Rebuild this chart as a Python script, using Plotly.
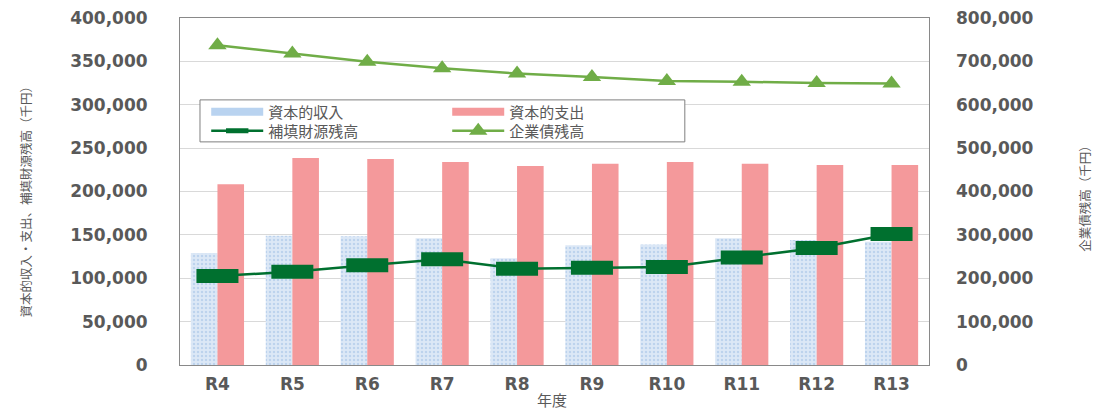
import plotly.graph_objects as go

years = ["R4", "R5", "R6", "R7", "R8", "R9", "R10", "R11", "R12", "R13"]
capital_income = [129000, 149000, 148500, 146000, 123000, 138000, 139000, 146000, 144000, 142000]
capital_expense = [208500, 238500, 237500, 234000, 229500, 232000, 234000, 232000, 230500, 230500]
reserve_balance = [102500, 107500, 115000, 122000, 111000, 112000, 113000, 124000, 135000, 151000]
bond_balance = [737000, 718000, 699000, 684000, 672000, 664000, 655000, 653000, 650000, 649000]

left_ticks = [0, 50000, 100000, 150000, 200000, 250000, 300000, 350000, 400000]
right_ticks = [0, 100000, 200000, 300000, 400000, 500000, 600000, 700000, 800000]

tick_font = dict(family="DejaVu Sans", size=17, color="#595959", weight="bold")
cjk = "Noto Sans CJK JP"
txt = "#595959"
blue_bg = "#dce8f6"
blue_dot = "#9dbde4"
pink = "#f4999b"
dark_green = "#00702f"
light_green = "#70ad47"

fig = go.Figure()
fig.add_trace(go.Bar(
    x=years, y=capital_income, name="資本的収入", showlegend=False, legendgroup="inc",
    marker=dict(color=blue_bg, line=dict(width=0),
                pattern=dict(shape=".", fgcolor=blue_dot, bgcolor=blue_bg, size=4, solidity=0.3)),
))
fig.add_trace(go.Bar(
    x=years, y=capital_expense, name="資本的支出", showlegend=False, legendgroup="exp",
    marker=dict(color=pink, line=dict(width=0)),
))
# legend swatches for the bar series (wide strips as in the reference)
fig.add_trace(go.Scatter(x=[None], y=[None], name="資本的収入", mode="lines", legendgroup="inc",
                         legend="legend", line=dict(color="#b9d3f0", width=8)))
fig.add_trace(go.Scatter(x=[None], y=[None], name="資本的支出", mode="lines", legendgroup="exp",
                         legend="legend", line=dict(color=pink, width=8)))
fig.add_trace(go.Scatter(
    x=years, y=reserve_balance, name="補填財源残高", mode="lines+markers", legend="legend2",
    line=dict(color=dark_green, width=2.5),
    marker=dict(symbol="line-ew", size=30, line=dict(width=14, color=dark_green), color=dark_green),
))
fig.add_trace(go.Scatter(
    x=years, y=bond_balance, name="企業債残高", mode="lines+markers", yaxis="y2", legend="legend2",
    line=dict(color=light_green, width=2.5),
    marker=dict(symbol="triangle-up", size=16, color=light_green),
))

legend_common = dict(
    xanchor="left", yanchor="middle", orientation="h",
    bgcolor="rgba(0,0,0,0)", borderwidth=0,
    font=dict(family=cjk, size=15, color=txt),
    entrywidth=174, entrywidthmode="pixels", itemwidth=52,
    traceorder="normal", tracegroupgap=0,
)

fig.update_layout(
    width=1101, height=412,
    margin=dict(l=180, r=172, t=18, b=47, autoexpand=False),
    paper_bgcolor="white", plot_bgcolor="white",
    barmode="group", bargap=0.29, bargroupgap=0.0,
    font=dict(family=cjk, size=14, color=txt),
    showlegend=True,
    legend=dict(x=0.035, y=0.729, **legend_common),
    legend2=dict(x=0.035, y=0.674, **legend_common),
    shapes=[dict(type="rect", xref="paper", yref="paper",
                 x0=0.0267, x1=0.674, y0=0.643, y1=0.764,
                 line=dict(color="#7f7f7f", width=1), fillcolor="white", layer="above")],
    xaxis=dict(
        range=[-0.5, 9.5],
        showline=True, linecolor="#898989", linewidth=1, mirror=True,
        tickfont=tick_font, ticks="", automargin=False, ticklabelstandoff=4,
    ),
    yaxis=dict(
        range=[0, 400000], tickvals=left_ticks, tickformat=",d",
        showgrid=True, gridcolor="#d9d9d9", gridwidth=1,
        showline=True, linecolor="#898989", linewidth=1, mirror=True,
        ticks="", ticklabelstandoff=28, zeroline=False, automargin=False,
        tickfont=tick_font,
    ),
    yaxis2=dict(
        range=[0, 800000], tickvals=right_ticks, tickformat=",d",
        overlaying="y", side="right", showgrid=False,
        ticks="", ticklabelstandoff=26, zeroline=False, automargin=False,
        tickfont=tick_font,
    ),
    annotations=[
        dict(text="資本的収入・支出、補填財源残高（千円）", xref="paper", yref="paper",
             x=-0.207, y=0.48, textangle=-90, showarrow=False,
             font=dict(size=12.5, color=txt, family=cjk), xanchor="center", yanchor="middle"),
        dict(text="企業債残高（千円）", xref="paper", yref="paper",
             x=1.208, y=0.49, textangle=-90, showarrow=False,
             font=dict(size=12.5, color=txt, family=cjk), xanchor="center", yanchor="middle"),
        dict(text="年度", xref="paper", yref="paper",
             x=0.497, y=-0.098, showarrow=False, xanchor="center", yanchor="middle",
             font=dict(size=15, color=txt, family=cjk)),
    ],
)

fig.write_html("out.html", config={"displayModeBar": False},
               post_script="document.body.style.margin='0';")
